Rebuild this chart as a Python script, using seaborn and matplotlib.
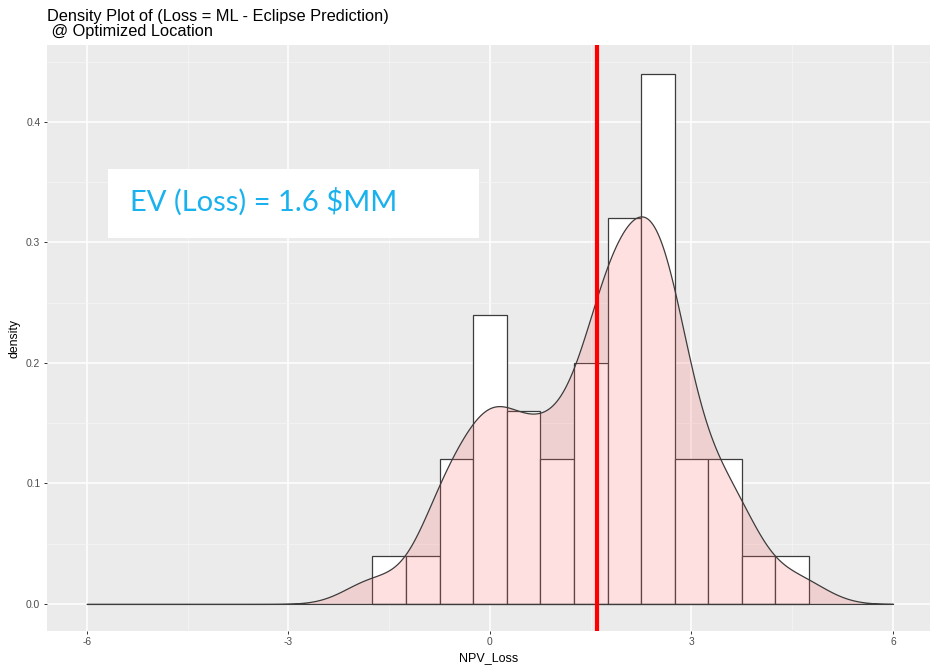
import numpy as np
import pandas as pd
import matplotlib
matplotlib.use("Agg")
import matplotlib.pyplot as plt
from matplotlib.patches import Rectangle
from matplotlib.ticker import MultipleLocator
import seaborn as sns

# Loss values (ML minus Eclipse prediction, $MM) and how often each occurs
loss_values = [-1.74, -0.76, -0.65, 0.00, 0.62, 1.06, 1.54, 1.93, 2.51, 2.99, 3.54, 3.82, 4.59]
loss_counts = [1, 1, 3, 6, 4, 3, 5, 8, 11, 3, 3, 1, 1]
ev_loss = 1.6

x_ticks = [-6, -3, 0, 3, 6]
y_ticks = [0.0, 0.1, 0.2, 0.3, 0.4]

df = pd.DataFrame({"NPV_Loss": np.repeat(loss_values, loss_counts)})

sns.set_theme(style="darkgrid")
plt.rcParams.update({
    "axes.facecolor": "#EBEBEB",
    "grid.color": "white",
    "axes.edgecolor": "#EBEBEB",
})
plt.rcParams["font.family"] = ["Liberation Sans", "DejaVu Sans"]

fig = plt.figure(figsize=(9.3, 6.71), dpi=100)
ax = fig.add_axes([0.05, 0.0601, 0.95, 0.8721])

# Histogram on the density scale, 0.5-wide bins
sns.histplot(data=df, x="NPV_Loss", stat="density", binwidth=0.5,
             binrange=(-1.75, 4.75), color="white", alpha=1.0,
             edgecolor="#3C3C3C", linewidth=0.9, ax=ax, zorder=2)

# Smoothed density over the full -6..6 range
sns.kdeplot(data=df, x="NPV_Loss", bw_method=0.309, cut=30, clip=(-6, 6),
            gridsize=600, fill=True, color="#FF6666", alpha=0.2,
            edgecolor="#3C3C3C", linewidth=0.9, ax=ax, zorder=3)

ax.axvline(ev_loss, color="#FF0000", linewidth=3.0, zorder=4)

ax.set_xlim(-6.6, 6.55)
ax.set_ylim(-0.0222, 0.4635)
ax.set_xticks(x_ticks)
ax.set_xticklabels([str(t) for t in x_ticks])
ax.set_yticks(y_ticks)
ax.set_yticklabels([f"{t:.1f}" for t in y_ticks])
ax.xaxis.set_minor_locator(MultipleLocator(1.5))
ax.yaxis.set_minor_locator(MultipleLocator(0.05))
ax.grid(which="major", color="white", linewidth=1.1)
ax.grid(which="minor", color="#F5F5F5", linewidth=0.55)
ax.set_axisbelow(True)
ax.tick_params(which="major", length=2.5, width=0.7, color="#333333",
               labelcolor="#4D4D4D", labelsize=7.4, pad=2, left=True, bottom=True)
ax.tick_params(which="minor", length=0)
for s in ax.spines.values():
    s.set_visible(False)

ax.set_xlabel("NPV_Loss", fontsize=9, color="black", labelpad=4)
ax.set_ylabel("density", fontsize=8.8, color="black", labelpad=4)

fig.text(47 / 930, 1 - 9 / 671,
         "Density Plot of (Loss = ML - Eclipse Prediction)\n @ Optimized Location",
         ha="left", va="top", fontsize=11.8, color="black", linespacing=0.98)

# Expected-value callout
ax.add_patch(Rectangle((0.0696, 0.671), 0.42, 0.118, transform=ax.transAxes,
                       facecolor="white", edgecolor="none", zorder=5))
ax.text(0.0945, 0.734, f"EV (Loss) = {ev_loss:.1f} $MM", transform=ax.transAxes,
        ha="left", va="center", fontsize=21, color="#19B2EE",
        family=["Lato", "DejaVu Sans"], zorder=6)

fig.savefig("out.png", dpi=100)
